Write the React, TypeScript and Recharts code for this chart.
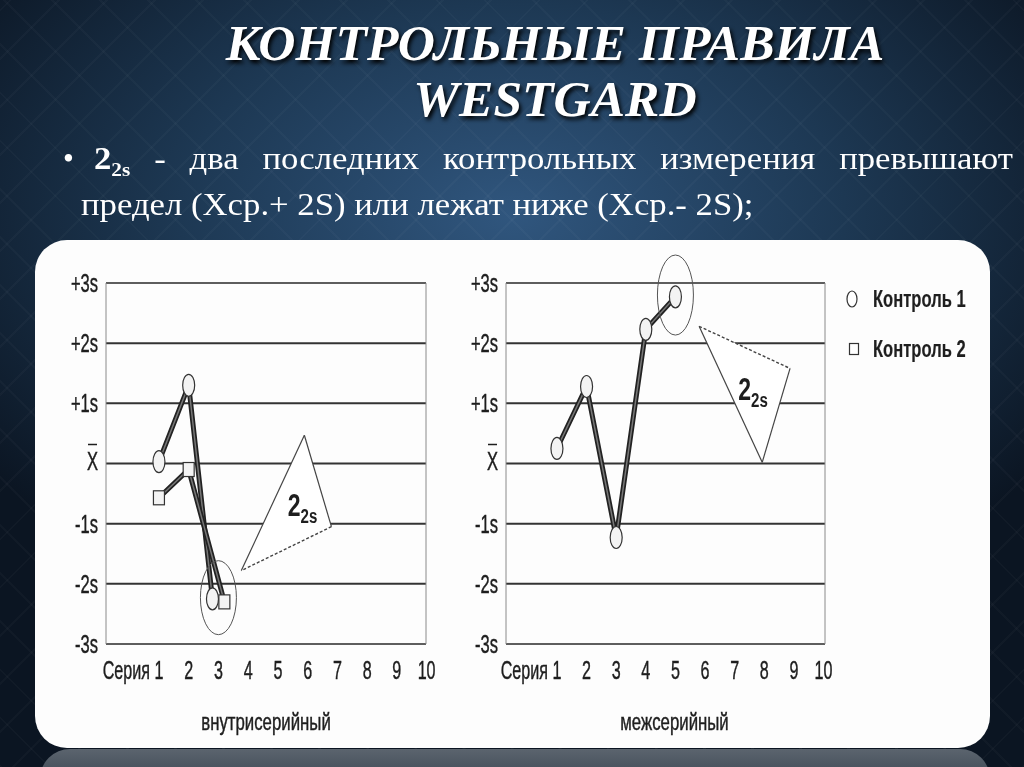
import React from "react";
import {
  LineChart,
  Line,
  XAxis,
  YAxis,
  CartesianGrid,
  ReferenceArea,
  ReferenceDot,
  Legend,
  Label,
} from "recharts";

// axes
const xTicks = [1, 2, 3, 4, 5, 6, 7, 8, 9, 10];
const xTickLabels = ["Серия 1", "2", "3", "4", "5", "6", "7", "8", "9", "10"];
const yTicks = [-3, -2, -1, 0, 1, 2, 3];
const yTickLabels = ["-3s", "-2s", "-1s", "X", "+1s", "+2s", "+3s"];

// внутрисерийный (within run)
const withinControl1 = [
  { x: 1, y: 0.03 },
  { x: 2, y: 1.3 },
  { x: 2.8, y: -2.25 },
];
const withinControl2 = [
  { x: 1, y: -0.57 },
  { x: 2, y: -0.1 },
  { x: 3.2, y: -2.3 },
];
const withinMark = { x: 3, y: -2.23 };
// callout triangle, edge 1->2 is dashed
const withinTriangle = [
  { x: 5.89, y: 0.47 },
  { x: 6.8, y: -1.05 },
  { x: 3.77, y: -1.78 },
];
const withinTriLabel = { x: 5.83, y: -0.72 };

// межсерийный (between runs)
const betweenControl1 = [
  { x: 1, y: 0.25 },
  { x: 2, y: 1.28 },
  { x: 3, y: -1.23 },
  { x: 4, y: 2.23 },
  { x: 5, y: 2.77 },
];
const betweenMark = { x: 5, y: 2.8 };
const betweenTriangle = [
  { x: 7.93, y: 0.02 },
  { x: 5.8, y: 2.28 },
  { x: 8.87, y: 1.58 },
];
const betweenTriLabel = { x: 7.62, y: 1.2 };

const legendItems = ["Контроль 1", "Контроль 2"];

const SANS = '"Liberation Sans", Arial, sans-serif';
const INK = "#1e1e1e";

// condensed text (narrow grotesque look)
const CText = (p: any) => (
  <text
    transform={`translate(${p.x},${p.y}) scale(${p.sx ?? 0.62},1)`}
    textAnchor={p.anchor ?? "start"}
    fontFamily={SANS}
    fontSize={p.size ?? 26}
    fontWeight={p.weight ?? "normal"}
    fill={INK}
    stroke={INK}
    strokeWidth={p.weight === "bold" ? 0.2 : 0.45}
  >
    {p.children}
  </text>
);

const Circle = (p: any) =>
  p.cx == null ? null : (
    <ellipse key={p.index} cx={p.cx} cy={p.cy} rx={6} ry={11} fill="#f3f3f3" stroke="#333" strokeWidth={1.2} />
  );
const Square = (p: any) =>
  p.cx == null ? null : (
    <rect key={p.index} x={p.cx - 5.5} y={p.cy - 7} width={11} height={14} fill="#f3f3f3" stroke="#333" strokeWidth={1.2} />
  );

const XTick = (p: any) => {
  const v = p.payload.value;
  const first = v === 1;
  return (
    <CText x={p.x + (first ? 4.5 : 0)} y={p.y + 27} anchor={first ? "end" : "middle"}>
      {xTickLabels[xTicks.indexOf(v)]}
    </CText>
  );
};

const YTick = (p: any) => {
  const v = p.payload.value;
  const label = yTickLabels[yTicks.indexOf(v)];
  return (
    <g>
      <CText x={p.x} y={p.y + (v === 0 ? 6 : 9)} anchor="end" size={25} sx={0.66}>
        {label}
      </CText>
      {v === 0 && <line x1={p.x - 10} x2={p.x - 1} y1={p.y - 19} y2={p.y - 19} stroke={INK} strokeWidth={1.5} />}
    </g>
  );
};

function triangleArea(tri: { x: number; y: number }[], lbl: { x: number; y: number }) {
  const xs = tri.map((d) => d.x);
  const ys = tri.map((d) => d.y);
  const x1 = Math.min(...xs);
  const x2 = Math.max(...xs);
  const y1 = Math.min(...ys);
  const y2 = Math.max(...ys);
  const shape = (p: any) => {
    const px = (v: number) => p.x + ((v - x1) / (x2 - x1)) * p.width;
    const py = (v: number) => p.y + ((y2 - v) / (y2 - y1)) * p.height;
    const pts = tri.map((d) => [px(d.x), py(d.y)]);
    const lx = px(lbl.x);
    const ly = py(lbl.y);
    return (
      <g>
        <polygon points={pts.map((q) => q.join(",")).join(" ")} fill="#fff" stroke="none" />
        <line x1={pts[2][0]} y1={pts[2][1]} x2={pts[0][0]} y2={pts[0][1]} stroke="#444" strokeWidth={1.2} />
        <line x1={pts[0][0]} y1={pts[0][1]} x2={pts[1][0]} y2={pts[1][1]} stroke="#444" strokeWidth={1.2} />
        <line x1={pts[1][0]} y1={pts[1][1]} x2={pts[2][0]} y2={pts[2][1]} stroke="#444" strokeWidth={1.4} strokeDasharray="3 2" />
        <text
          transform={`translate(${lx},${ly + 9}) scale(0.72,1)`}
          textAnchor="middle"
          fontFamily={SANS}
          fontWeight="bold"
          fill={INK}
        >
          <tspan fontSize={32}>2</tspan>
          <tspan fontSize={21} dy={7}>2s</tspan>
        </text>
      </g>
    );
  };
  return <ReferenceArea x1={x1} x2={x2} y1={y1} y2={y2} shape={shape} ifOverflow="visible" />;
}

const bigEllipse = (rx: number, ry: number) => (p: any) =>
  <ellipse cx={p.cx} cy={p.cy} rx={rx} ry={ry} fill="none" stroke="#555" strokeWidth={1} />;

function SeriesLines(data: { x: number; y: number }[], name: string, dot: any) {
  return [
    <Line key={name + "o"} data={data} dataKey="y" type="linear" stroke="#222" strokeWidth={5} dot={false} isAnimationActive={false} legendType="none" />,
    <Line key={name + "i"} data={data} dataKey="y" name={name} type="linear" stroke="#777" strokeWidth={1.5} dot={dot} isAnimationActive={false} />,
  ];
}

const LegendContent = () => (
  <svg width={170} height={100}>
    {legendItems.map((t, i) => (
      <g key={t}>
        {i === 0 ? (
          <ellipse cx={12} cy={29} rx={5} ry={8} fill="#fff" stroke="#333" strokeWidth={1.2} />
        ) : (
          <rect x={9.5} y={73.5} width={9} height={11} fill="#fff" stroke="#333" strokeWidth={1.2} />
        )}
        <CText x={33} y={37 + i * 50} size={24} weight="bold" sx={0.69}>
          {t}
        </CText>
      </g>
    ))}
  </svg>
);

const AxisTitle = (text: string, dx: number) => (p: any) => {
  const vb = p.viewBox;
  return (
    <CText x={vb.x + vb.width / 2 + dx} y={vb.y + vb.height - 10} anchor="middle" size={24} sx={0.7}>
      {text}
    </CText>
  );
};

function ControlChart(props: {
  width: number;
  rightMargin: number;
  yAxisWidth: number;
  xDomain: number[];
  title: string;
  titleDx: number;
  children: any;
  legend?: boolean;
}) {
  const [xMin, xMax] = props.xDomain;
  return (
    <LineChart width={props.width} height={500} margin={{ top: 43, right: props.rightMargin, left: 0, bottom: 0 }}>
      <CartesianGrid vertical={false} stroke="#333" strokeWidth={2} />
      <XAxis
        type="number"
        dataKey="x"
        domain={[xMin, xMax]}
        ticks={xTicks}
        allowDataOverflow
        tick={<XTick />}
        tickLine={false}
        axisLine={false}
        height={96}
        interval={0}
      >
        <Label content={AxisTitle(props.title, props.titleDx)} />
      </XAxis>
      <YAxis
        type="number"
        domain={[-3, 3]}
        ticks={yTicks}
        tick={<YTick />}
        tickLine={false}
        axisLine={false}
        width={props.yAxisWidth}
        interval={0}
      />
      <ReferenceArea x1={xMin} x2={xMax} y1={-3} y2={3} fill="none" stroke="#8a8a8a" strokeWidth={1} />
      {props.children}
      {props.legend && (
        <Legend
          layout="vertical"
          align="center"
          verticalAlign="middle"
          content={<LegendContent />}
          wrapperStyle={{ left: 390, top: 30, width: 170, height: 100 }}
        />
      )}
    </LineChart>
  );
}

export default function App() {
  return (
    <div
      style={{
        position: "fixed",
        left: 0,
        top: 0,
        width: 1024,
        height: 767,
        overflow: "hidden",
        background:
          "repeating-linear-gradient(45deg, rgba(255,255,255,0.025) 0 2px, transparent 2px 34px), repeating-linear-gradient(-45deg, rgba(255,255,255,0.025) 0 2px, transparent 2px 34px), radial-gradient(ellipse 65% 55% at 50% 28%, #30567e 0%, #1d3853 50%, #0b1522 100%)",
      }}
    >
      <div
        style={{
          position: "absolute",
          left: 0,
          width: 1110,
          top: 15,
          textAlign: "center",
          fontFamily: '"Liberation Serif", serif',
          fontWeight: "bold",
          fontStyle: "italic",
          fontSize: 50,
          lineHeight: "56px",
          color: "#fff",
          textShadow: "2px 3px 4px #000",
        }}
      >
        <div style={{ transform: "scaleX(1.03)" }}>КОНТРОЛЬНЫЕ ПРАВИЛА</div>
        <div style={{ transform: "scaleX(1.03)" }}>WESTGARD</div>
      </div>

      <div
        style={{
          position: "absolute",
          left: 0,
          top: 135,
          width: 1024,
          fontFamily: '"Liberation Serif", serif',
          fontSize: 31,
          lineHeight: "47px",
          color: "#fff",
        }}
      >
        <div style={{ position: "absolute", left: 63, top: 0 }}>•</div>
        <div
          style={{
            position: "absolute",
            left: 94,
            top: 0,
            width: (1013 - 94) / 1.12,
            transform: "scaleX(1.12)",
            transformOrigin: "0 0",
            textAlign: "justify",
            textAlignLast: "justify",
            whiteSpace: "nowrap",
          }}
        >
          <b>
            2<sub style={{ fontSize: 19, lineHeight: 0 }}>2s</sub>
          </b>{" "}
          - два последних контрольных измерения превышают
        </div>
        <div
          style={{
            position: "absolute",
            left: 81,
            top: 46,
            transform: "scaleX(1.12)",
            transformOrigin: "0 0",
            whiteSpace: "nowrap",
          }}
        >
          предел (Хср.+ 2S) или лежат ниже (Хср.- 2S);
        </div>
      </div>

      <div
        style={{
          position: "absolute",
          left: 40,
          top: 749,
          width: 950,
          height: 40,
          borderRadius: "30px 30px 0 0",
          background: "linear-gradient(#5b646e, #36414d)",
        }}
      />
      <div
        style={{
          position: "absolute",
          left: 35,
          top: 240,
          width: 955,
          height: 508,
          borderRadius: 32,
          background: "#fdfdfd",
        }}
      />

      <div style={{ position: "absolute", left: 30, top: 240 }}>
        <ControlChart width={420} rightMargin={24} yAxisWidth={76} xDomain={[-0.78, 9.98]} title="внутрисерийный" titleDx={0}>
          {triangleArea(withinTriangle, withinTriLabel)}
          {SeriesLines(withinControl1, "Контроль 1", Circle)}
          {SeriesLines(withinControl2, "Контроль 2", Square)}
          <ReferenceDot x={withinMark.x} y={withinMark.y} r={18} shape={bigEllipse(18, 37)} ifOverflow="visible" />
        </ControlChart>
      </div>

      <div style={{ position: "absolute", left: 450, top: 240 }}>
        <ControlChart width={560} rightMargin={185} yAxisWidth={56} xDomain={[-0.72, 10.05]} title="межсерийный" titleDx={9} legend>
          {triangleArea(betweenTriangle, betweenTriLabel)}
          {SeriesLines(betweenControl1, "Контроль 1", Circle)}
          <ReferenceDot x={betweenMark.x} y={betweenMark.y} r={18} shape={bigEllipse(18, 40)} ifOverflow="visible" />
        </ControlChart>
      </div>
    </div>
  );
}
